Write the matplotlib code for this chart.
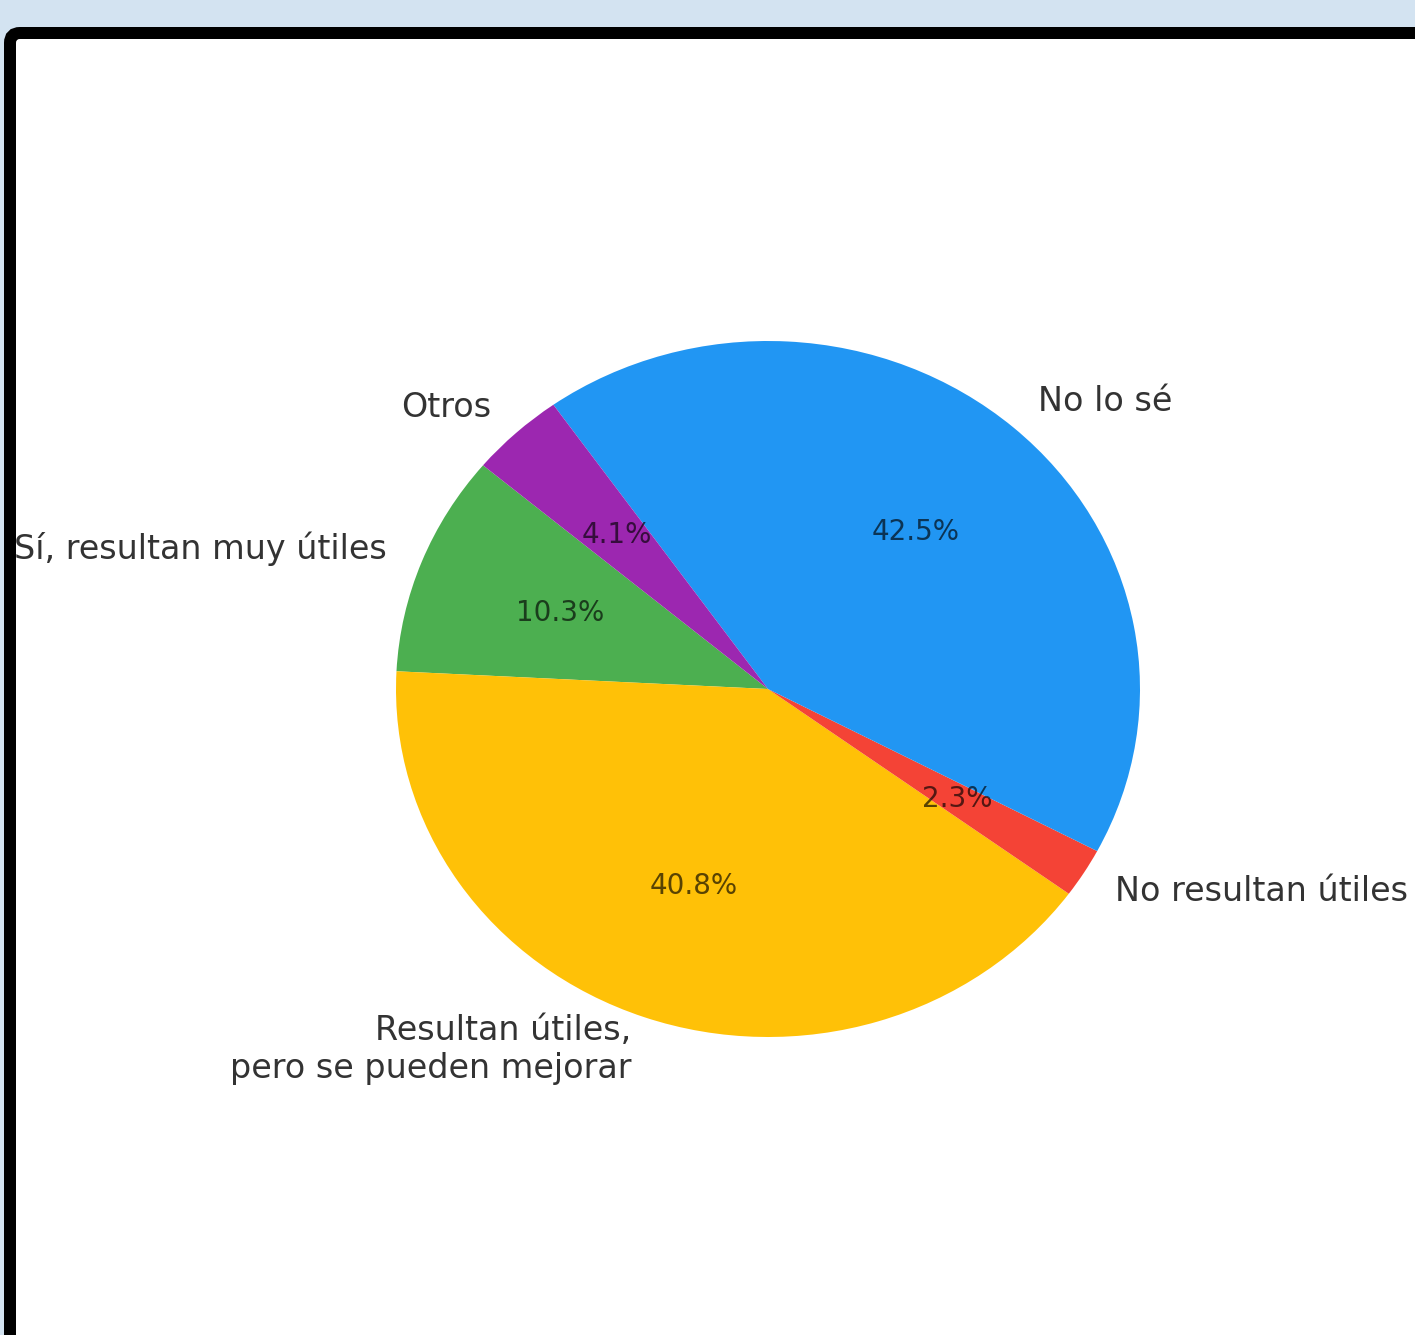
import matplotlib
matplotlib.use('Agg')
import matplotlib.pyplot as plt
from matplotlib.patches import FancyBboxPatch
from matplotlib.transforms import IdentityTransform, Bbox

labels = ['Sí, resultan muy útiles', 'Resultan útiles,\npero se pueden mejorar',
          'No resultan útiles', 'No lo sé', 'Otros']
sizes = [10.3, 40.8, 2.3, 42.5, 4.1]
colors = ['#4CAF50', '#FFC107', '#F44336', '#2196F3', '#9C27B0']

W, H = 1415, 1335
fig = plt.figure(figsize=(W / 100, H / 100), dpi=100)
fig.patch.set_facecolor('#D3E3F1')

# white panel with thick black frame (cropped on right/bottom)
frame = FancyBboxPatch((10, -60), W + 100, H - 33 + 60,
                       boxstyle='round,pad=0,rounding_size=10',
                       transform=IdentityTransform(),
                       facecolor='white', edgecolor='black', linewidth=8.64, zorder=-1)
fig.add_artist(frame)

# pie center ~ (768, 689) px, radius ~372 x 348 px
ax = fig.add_axes([303 / W, (H - 1124) / H, 930 / W, 870 / H])
ax.set_facecolor('none')
wedges, texts, autotexts = ax.pie(sizes, labels=labels, colors=colors, startangle=140,
                                  autopct='%1.1f%%',
                                  textprops={'fontsize': 24, 'color': '#333333'})
for t in autotexts:
    t.set_fontsize(20)
    t.set_color('black')
    t.set_alpha(0.65)
ax.set_aspect('auto')
ax.set_xlim(-1.25, 1.25)
ax.set_ylim(-1.25, 1.25)

# labels are cut off by the frame
clip = Bbox.from_extents(16, 0, W, H - 39)
for t in texts:
    t.set_clip_box(clip)
    t.set_clip_on(True)

plt.savefig('out.png', dpi=100, facecolor=fig.get_facecolor())
